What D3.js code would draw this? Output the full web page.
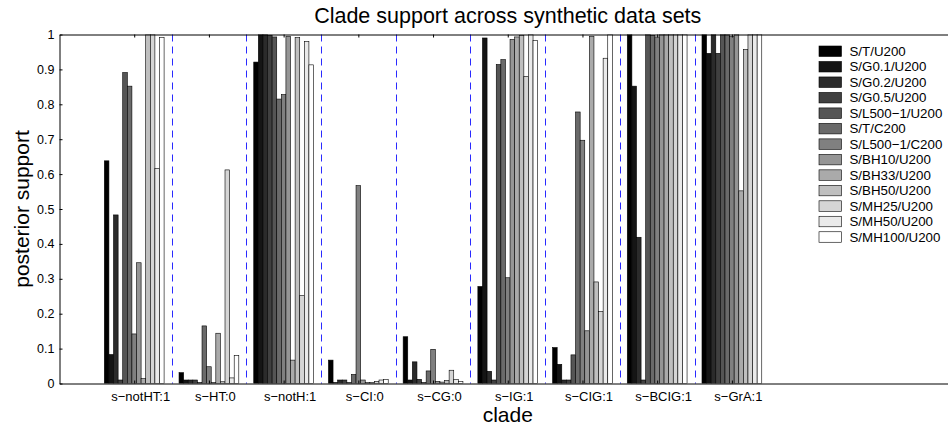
<!DOCTYPE html>
<html>
<head>
<meta charset="utf-8">
<script src="https://cdn.jsdelivr.net/npm/d3@7"></script>
<style>
  body { margin: 0; background: #fff; }
  svg { display: block; font-family: "Liberation Sans", Arial, Helvetica, sans-serif; }
</style>
</head>
<body>
<div id="chart"></div>
<script>
// Clades on the x axis
const clades = ['s−notHT:1', 's−HT:0', 's−notH:1', 's−CI:0', 's−CG:0', 's−IG:1', 's−CIG:1', 's−BCIG:1', 's−GrA:1'];

// Synthetic data sets, legend order
const dataSets = ['S/T/U200', 'S/G0.1/U200', 'S/G0.2/U200', 'S/G0.5/U200', 'S/L500−1/U200', 'S/T/C200',
    'S/L500−1/C200', 'S/BH10/U200', 'S/BH33/U200', 'S/BH50/U200', 'S/MH25/U200', 'S/MH50/U200', 'S/MH100/U200'];

// Posterior support per data set (one value per clade)
const sT_U200     = [0.638, 0.031, 0.921, 0.067, 0.134, 0.278, 0.103, 1.000, 1.000];
const sG01_U200   = [0.083, 0.010, 1.000, 0.003, 0.010, 0.990, 0.055, 0.852, 0.946];
const sG02_U200   = [0.483, 0.010, 1.000, 0.010, 0.062, 0.035, 0.010, 0.419, 1.000];
const sG05_U200   = [0.010, 0.010, 0.998, 0.010, 0.012, 0.010, 0.010, 0.010, 0.946];
const sL500_U200  = [0.891, 0.003, 0.993, 0.003, 0.003, 0.914, 0.082, 1.000, 1.000];
const sT_C200     = [0.852, 0.165, 0.815, 0.026, 0.036, 0.928, 0.778, 0.997, 1.000];
const sL500_C200  = [0.142, 0.048, 0.828, 0.567, 0.098, 0.303, 0.697, 0.993, 0.994];
const sBH10_U200  = [0.346, 0.003, 0.995, 0.010, 0.006, 0.986, 0.151, 1.000, 1.000];
const sBH33_U200  = [0.014, 0.144, 0.067, 0.003, 0.004, 0.993, 0.995, 1.000, 0.552];
const sBH50_U200  = [1.000, 0.005, 0.991, 0.003, 0.009, 0.998, 0.291, 1.000, 0.957];
const sMH25_U200  = [1.000, 0.612, 0.252, 0.006, 0.038, 0.880, 0.206, 1.000, 1.000];
const sMH50_U200  = [0.616, 0.016, 0.980, 0.010, 0.011, 1.000, 0.932, 1.000, 1.000];
const sMH100_U200 = [0.992, 0.080, 0.913, 0.012, 0.006, 0.983, 1.000, 1.000, 1.000];

const seriesValues = [sT_U200, sG01_U200, sG02_U200, sG05_U200, sL500_U200, sT_C200, sL500_C200,
    sBH10_U200, sBH33_U200, sBH50_U200, sMH25_U200, sMH50_U200, sMH100_U200];

// y tick values
const yTicks = [0, 0.1, 0.2, 0.3, 0.4, 0.5, 0.6, 0.7, 0.8, 0.9, 1];

// gray colormap, black -> white
const grays = d3.range(dataSets.length).map(i => d3.interpolateRgb('#000', '#fff')(i / (dataSets.length - 1)));

const width = 948, height = 427;
const plotLeft = 59.5, plotTop = 34.5, plotBottom = 383.5, plotRight = 956;

const svg = d3.select('#chart')
    .append('svg')
    .attr('width', width)
    .attr('height', height);

// Scales
const x = d3.scaleLinear().domain([0, clades.length + 3]).range([plotLeft, plotRight]);
const y = d3.scaleLinear().domain([0, 1]).range([plotBottom, plotTop]);
const inner = d3.scaleBand().domain(d3.range(dataSets.length)).range([-0.4, 0.4]);
const barW = x(inner.bandwidth()) - x(0);

svg.append('clipPath').attr('id', 'plot')
    .append('rect')
    .attr('x', plotLeft).attr('y', plotTop)
    .attr('width', plotRight - plotLeft).attr('height', plotBottom - plotTop);

// Bars
const bars = svg.append('g').attr('clip-path', 'url(#plot)');
seriesValues.forEach((vals, s) => {
    bars.selectAll(null)
        .data(vals)
        .enter()
        .append('rect')
        .attr('x', (d, c) => x(c + 1 + inner(s)))
        .attr('y', d => y(d))
        .attr('width', barW)
        .attr('height', d => y(0) - y(d))
        .attr('fill', grays[s])
        .attr('stroke', '#000')
        .attr('stroke-width', 0.6);
});

// Dashed separators between clades
svg.append('g')
    .selectAll('line')
    .data(d3.range(clades.length - 1))
    .enter()
    .append('line')
    .attr('x1', i => Math.round(x(i + 1.5)) + 0.5)
    .attr('x2', i => Math.round(x(i + 1.5)) + 0.5)
    .attr('y1', plotTop)
    .attr('y2', plotBottom)
    .attr('stroke', '#2a2aff')
    .attr('stroke-width', 1)
    .attr('stroke-dasharray', '7,5');

// Axes
const xAxis = svg.append('g')
    .attr('transform', `translate(0,${plotBottom})`)
    .call(d3.axisBottom(x)
        .tickValues(d3.range(1, clades.length + 1))
        .tickFormat(i => clades[i - 1])
        .tickSizeInner(-3)
        .tickSizeOuter(0));
xAxis.selectAll('text')
    .attr('y', 17)
    .attr('dy', 0)
    .attr('dx', 6)
    .attr('fill', '#000')
    .style('font-size', '13px');

svg.append('g')
    .attr('transform', `translate(0,${plotTop})`)
    .call(d3.axisTop(x)
        .tickValues(d3.range(1, clades.length + 1))
        .tickFormat('')
        .tickSizeInner(-3)
        .tickSizeOuter(0));

const yAxis = svg.append('g')
    .attr('transform', `translate(${plotLeft},0)`)
    .call(d3.axisLeft(y)
        .tickValues(yTicks)
        .tickFormat(d => d === 0 ? '0' : d === 1 ? '1' : d3.format('.1f')(d))
        .tickSizeInner(-3)
        .tickSizeOuter(0)
        .tickPadding(5));
yAxis.selectAll('text')
    .attr('fill', '#000')
    .style('font-size', '12.5px');

svg.selectAll('.domain').attr('stroke', '#000');
svg.selectAll('.tick line').attr('stroke', '#000');

// Title and axis labels
svg.append('text')
    .attr('x', (plotLeft + plotRight) / 2)
    .attr('y', 23)
    .attr('text-anchor', 'middle')
    .style('font-size', '21.5px')
    .text('Clade support across synthetic data sets');

svg.append('text')
    .attr('x', (plotLeft + plotRight) / 2)
    .attr('y', 421.5)
    .attr('text-anchor', 'middle')
    .style('font-size', '21px')
    .text('clade');

svg.append('text')
    .attr('transform', `translate(29,${(plotTop + plotBottom) / 2}) rotate(-90)`)
    .attr('text-anchor', 'middle')
    .style('font-size', '21px')
    .text('posterior support');

// Legend (no box)
const legend = svg.append('g').attr('transform', 'translate(819,46)');
const rowH = 15.48;
const item = legend.selectAll('g')
    .data(dataSets)
    .enter()
    .append('g')
    .attr('transform', (d, i) => `translate(0,${i * rowH})`);
item.append('rect')
    .attr('width', 22.5)
    .attr('height', 10.5)
    .attr('fill', (d, i) => grays[i])
    .attr('stroke', '#000')
    .attr('stroke-width', 0.6);
item.append('text')
    .attr('x', 30.5)
    .attr('y', 10)
    .style('font-size', '13.3px')
    .text(d => d);
</script>
</body>
</html>
